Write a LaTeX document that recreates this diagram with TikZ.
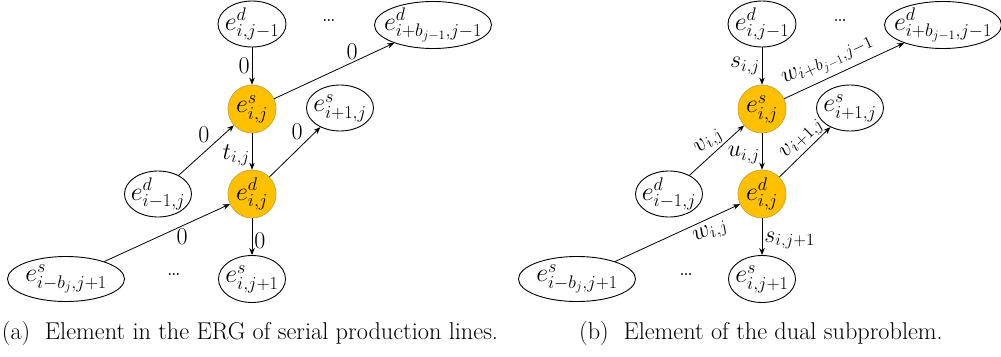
\RequirePackage{fix-cm}
\documentclass[tikz,border=0pt]{standalone}
\usetikzlibrary{shapes.geometric,arrows.meta}
\definecolor{gold}{HTML}{FFC000}
\definecolor{golddark}{HTML}{C9A227}
\begin{document}
\begin{tikzpicture}[x=1pt,y=-1pt,
  ell/.style={draw, ellipse, line width=0.9pt, inner sep=0pt},
  hub/.style={circle, fill=gold, draw=golddark, line width=0.7pt, minimum size=48pt, inner sep=0pt, font=\fontsize{26}{30}\selectfont},
  txt/.style={inner sep=0pt, font=\fontsize{26}{30}\selectfont},
  arr/.style={-{Stealth[length=7pt,width=5.5pt]}, line width=0.8pt},
  lab/.style={font=\fontsize{24}{28}\selectfont, inner sep=2pt},
  dotstyle/.style={font=\fontsize{24}{28}\selectfont},
  captxt/.style={font=\fontsize{24.3}{28}\selectfont}]
\useasboundingbox (0,0) rectangle (1001,356);

% ---------- panel (a) ----------
\node[ell, minimum width=68pt, minimum height=46pt] (a1) at (252,24) {};
\node[txt] (a1t) at (a1) {$e^d_{i,j-1}$};
\node[ell, minimum width=117pt, minimum height=47pt] (a2) at (433,25) {};
\node[txt] (a2t) at (a2) {$e^d_{i+b_{j-1},j-1}$};
\node[hub] (a3) at (252,109) {$e^s_{i,j}$};
\node[ell, minimum width=67pt, minimum height=46pt] (a4) at (340,108) {};
\node[txt] (a4t) at (a4) {$e^s_{i+1,j}$};
\node[ell, minimum width=67pt, minimum height=46pt] (a5) at (158,194) {};
\node[txt] (a5t) at (a5) {$e^d_{i-1,j}$};
\node[hub] (a6) at (252,194) {$e^d_{i,j}$};
\node[ell, minimum width=117pt, minimum height=45pt] (a7) at (66,279) {};
\node[txt] (a7t) at (a7) {$e^s_{i-b_j,j+1}$};
\node[ell, minimum width=67pt, minimum height=47pt] (a8) at (252,279) {};
\node[txt] (a8t) at (a8) {$e^s_{i,j+1}$};
\node[dotstyle] (ad1) at (329,21) {\ldots};
\node[dotstyle] (ad2) at (174,275) {\ldots};

\draw[arr] (a1) -- node[lab, left] {0} (a3);
\draw[arr] (a3) -- node[lab, pos=0.65, above] {0} (a2);
\draw[arr] (a5) -- node[lab, pos=0.6, above left=0pt] {0} (a3);
\draw[arr] (a3) -- node[lab, pos=0.6, left] {$t_{i,j}$} (a6);
\draw[arr] (a6) -- node[lab, pos=0.7, above left=0pt] {0} (a4);
\draw[arr] (a7) -- node[lab, pos=0.62, below] {0} (a6);
\draw[arr] (a6) -- node[lab, pos=0.6, right] {0} (a8);

\node[captxt] (capa) at (250,333) {(a)\ \ Element in the ERG of serial production lines.};

% ---------- panel (b) ----------
\node[ell, minimum width=68pt, minimum height=46pt] (b1) at (762,24) {};
\node[txt] (b1t) at (b1) {$e^d_{i,j-1}$};
\node[ell, minimum width=117pt, minimum height=47pt] (b2) at (943,25) {};
\node[txt] (b2t) at (b2) {$e^d_{i+b_{j-1},j-1}$};
\node[hub] (b3) at (762,109) {$e^s_{i,j}$};
\node[ell, minimum width=67pt, minimum height=46pt] (b4) at (850,108) {};
\node[txt] (b4t) at (b4) {$e^s_{i+1,j}$};
\node[ell, minimum width=67pt, minimum height=46pt] (b5) at (669,194) {};
\node[txt] (b5t) at (b5) {$e^d_{i-1,j}$};
\node[hub] (b6) at (762,194) {$e^d_{i,j}$};
\node[ell, minimum width=117pt, minimum height=45pt] (b7) at (577,279) {};
\node[txt] (b7t) at (b7) {$e^s_{i-b_j,j+1}$};
\node[ell, minimum width=67pt, minimum height=47pt] (b8) at (762,279) {};
\node[txt] (b8t) at (b8) {$e^s_{i,j+1}$};
\node[dotstyle] (bd1) at (840,21) {\ldots};
\node[dotstyle] (bd2) at (686,275) {\ldots};

\draw[arr] (b1) -- node[lab, left] {$s_{i,j}$} (b3);
\draw[arr] (b3) -- node[lab, pos=0.42, above=3pt, sloped] {$w_{i+b_{j-1},j-1}$} (b2);
\draw[arr] (b5) -- node[lab, pos=0.5, above, sloped] {$v_{i,j}$} (b3);
\draw[arr] (b3) -- node[lab, pos=0.6, left] {$u_{i,j}$} (b6);
\draw[arr] (b6) -- node[lab, pos=0.6, above, sloped] {$v_{i+1,j}$} (b4);
\draw[arr] (b7) -- node[lab, pos=0.72, below=3pt, sloped] {$w_{i,j}$} (b6);
\draw[arr] (b6) -- node[lab, pos=0.6, right] {$s_{i,j+1}$} (b8);

\node[captxt] (capb) at (761,333) {(b)\ \ Element of the dual subproblem.};
\end{tikzpicture}
\end{document}
